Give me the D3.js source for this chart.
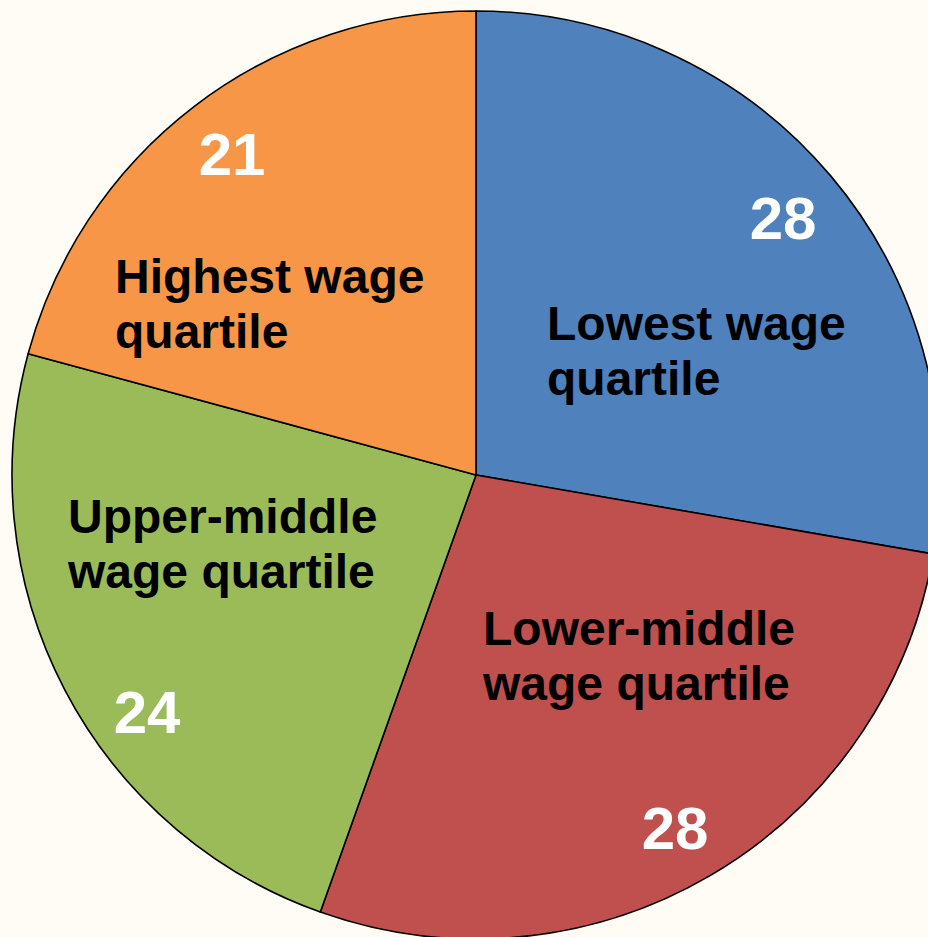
<!DOCTYPE html>
<html>
<head>
<meta charset="utf-8">
<script src="https://cdn.jsdelivr.net/npm/d3@7"></script>
<style>
  html, body { margin: 0; padding: 0; background: #fffcf5; overflow: hidden; }
  svg { display: block; }
  text { font-family: "Liberation Sans", Arial, sans-serif; font-weight: bold; }
</style>
</head>
<body>
<div id="chart"></div>
<script>
// ---------------- data ----------------
var categories = ["Lowest wage quartile", "Lower-middle wage quartile", "Upper-middle wage quartile", "Highest wage quartile"];
var labelLines = [["Lowest wage", "quartile"], ["Lower-middle", "wage quartile"], ["Upper-middle", "wage quartile"], ["Highest wage", "quartile"]];
var shares = [28, 28, 24, 21];
var sliceColors = ["#4f81bd", "#c0504d", "#9bbb59", "#f79646"];

// manual label placement (offsets from pie centre), like the hand-placed labels in the original
var numberPos = [[307, -236], [199, 374], [-329, 258], [-244, -300]];
var namePos = [[71, -135], [7, 170], [-408, 58], [-361, -182]];

var width = 928, height = 937;
var cx = 476, cy = 475, radius = 464;

var svg = d3.select("#chart")
    .append("svg")
    .attr("width", width)
    .attr("height", height);

svg.append("rect").attr("width", width).attr("height", height).attr("fill", "#fffcf5");

var g = svg.append("g").attr("transform", "translate(" + cx + "," + cy + ")");

var pie = d3.pie().sort(null).value(function (d) { return d; });
var arc = d3.arc().innerRadius(0).outerRadius(radius);
var arcs = pie(shares);

g.selectAll("path.slice")
    .data(arcs)
    .enter()
    .append("path")
    .attr("class", "slice")
    .attr("d", arc)
    .attr("fill", function (d, i) { return sliceColors[i]; })
    .attr("stroke", "#000")
    .attr("stroke-width", 1.6)
    .attr("stroke-linejoin", "round");

// value labels
g.selectAll("text.value")
    .data(arcs)
    .enter()
    .append("text")
    .attr("class", "value")
    .attr("x", function (d, i) { return numberPos[i][0]; })
    .attr("y", function (d, i) { return numberPos[i][1]; })
    .attr("text-anchor", "middle")
    .attr("fill", "#fff")
    .style("font-size", "60px")
    .text(function (d) { return d.data; });

// category labels
var names = g.selectAll("text.name")
    .data(arcs)
    .enter()
    .append("text")
    .attr("class", "name")
    .attr("x", function (d, i) { return namePos[i][0]; })
    .attr("y", function (d, i) { return namePos[i][1]; })
    .attr("fill", "#000")
    .style("font-size", "48px");

names.selectAll("tspan")
    .data(function (d, i) { return labelLines[i].map(function (t) { return { t: t, i: i }; }); })
    .enter()
    .append("tspan")
    .attr("x", function (d) { return namePos[d.i][0]; })
    .attr("dy", function (d, j) { return j === 0 ? 0 : 55; })
    .text(function (d) { return d.t; });
</script>
</body>
</html>
